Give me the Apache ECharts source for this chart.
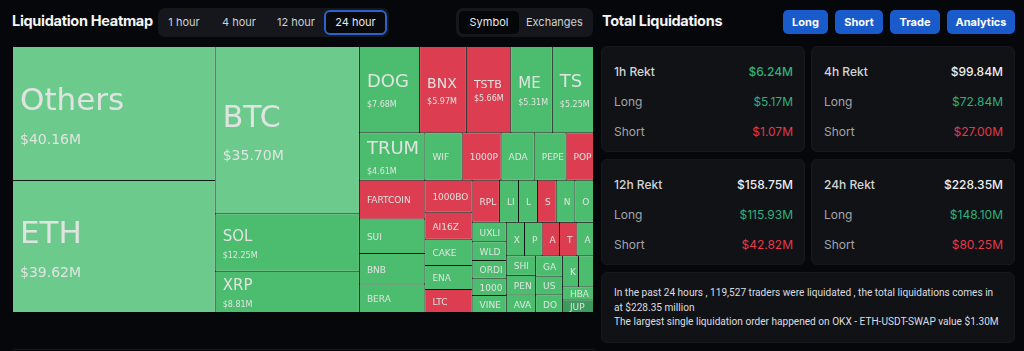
<!DOCTYPE html>
<html>
<head>
<meta charset="utf-8">
<title>Liquidation Heatmap</title>
<script src="https://cdn.jsdelivr.net/npm/echarts@6/dist/echarts.min.js"></script>
<style>
html,body{margin:0;padding:0;background:#05070a;}
body{width:1024px;height:351px;position:relative;overflow:hidden;font-family:Inter,"Noto Sans",sans-serif;color:#e8e8e8;}
.ttl{position:absolute;top:12px;height:18px;line-height:18px;font-weight:700;font-size:14.5px;color:#f4f4f4;letter-spacing:-0.3px;}
.seg{position:absolute;top:8px;height:29px;background:#15171c;border-radius:7px;}
.seg span{position:absolute;top:2px;height:25px;line-height:25px;text-align:center;font-size:11px;color:#cdd0d5;box-sizing:border-box;}
.seg span.on{border:2px solid #2a63c9;background:#07090c;border-radius:6px;line-height:21px;color:#e6e8ec;}
.seg span.dark{background:#050608;border-radius:5px;top:3px;height:23px;line-height:23px;color:#e6e8ec;}
.btn{position:absolute;top:10px;height:24px;line-height:24px;border-radius:5px;background:#1a5bcb;color:#fff;font-size:11px;font-weight:700;text-align:center;}
.card{position:absolute;background:#101216;border:1px solid #16181d;border-radius:6px;box-sizing:border-box;}
.row{position:absolute;left:12px;right:11px;height:16px;line-height:16px;font-size:12px;}
.row b{font-weight:500;color:#d2d4d7;}
.row i{font-style:normal;color:#a2a5aa;}
.row em{font-style:normal;position:absolute;right:0;top:0;}
.note{font-family:Roboto,"Noto Sans",sans-serif;font-size:10.1px;color:#dcdde0;line-height:14.6px;padding:13px 0 0 12px;white-space:nowrap;}
#heatmap{position:absolute;left:13px;top:47px;width:580px;height:265px;}
</style>
</head>
<body>
<div class="ttl" style="left:12px">Liquidation Heatmap</div>
<div class="seg" style="left:158px;width:231px">
  <span style="left:4px;width:44px">1 hour</span>
  <span style="left:59px;width:44px">4 hour</span>
  <span style="left:112px;width:52px">12 hour</span>
  <span class="on" style="left:166px;width:63px">24 hour</span>
</div>
<div class="seg" style="left:456px;width:137px">
  <span class="dark" style="left:3px;width:60px">Symbol</span>
  <span style="left:70px;width:56px">Exchanges</span>
</div>
<div class="ttl" style="left:602px">Total Liquidations</div>
<div class="btn" style="left:783px;width:45px">Long</div>
<div class="btn" style="left:835px;width:48px">Short</div>
<div class="btn" style="left:890px;width:50px">Trade</div>
<div class="btn" style="left:947px;width:68px">Analytics</div>

<div id="heatmap"></div>
<div id="cards"></div>
<div class="card" style="left:601px;top:272px;width:414px;height:71px">
  <div class="note">In the past 24 hours , 119,527 traders were liquidated , the total liquidations comes in<br>at $228.35 million<br>The largest single liquidation order happened on OKX - ETH-USDT-SWAP value $1.30M</div>
</div>
<div style="position:absolute;left:13px;top:349px;width:582px;height:1px;background:#15181d"></div>

<script>
// liquidations per coin, 24h, USD millions (order as laid out)
var coins = ['Others','ETH','BTC','SOL','XRP','DOGE','BNX','TSTBSC','ME','TST',
  'TRUMP','FARTCOIN','SUI','BNB','BERA','WIF','1000PEPE','ADA','PEPE','POPCAT',
  '1000BONK','AI16Z','CAKE','ENA','LTC','RPL','LINK','LDO','SWARMS','NEAR','ONDO',
  'UXLINK','WLD','ORDI','1000CAT','VINE','XLM','PNUT','ACT','TAO','AAVE',
  'SHIB','PENGU','AVAX','GALA','USUAL','DOT','KAITO','ARB','HBAR','JUP'];
var liquidated = [40.16,39.62,35.70,12.25,8.81,7.68,5.97,5.66,5.31,5.25,
  4.61,3.74,3.35,2.96,2.76,2.62,2.74,2.33,2.24,1.93,
  2.24,1.89,1.82,1.68,1.61,1.70,1.19,1.18,1.17,1.16,1.16,
  0.98,0.95,0.90,0.87,0.86,0.90,0.87,0.86,0.86,0.82,
  0.85,0.85,0.76,0.81,0.74,0.70,0.74,0.69,0.60,0.58];
var shortHeavy = ['BNX','TSTBSC','1000PEPE','POPCAT','FARTCOIN','1000BONK','AI16Z','LTC','RPL','SWARMS','ACT','TAO'];
var paleCoins = ['Others','ETH','BTC'];
var darkCoins = ['JUP'];

// summary cards
var periods = ['1h Rekt','4h Rekt','12h Rekt','24h Rekt'];
var totals = [6.24, 99.84, 158.75, 228.35];
var longs = [5.17, 72.84, 115.93, 148.10];
var shorts = [1.07, 27.00, 42.82, 80.25];

// label sizes [name, value] for the cells that show their amount
var labelSize = {Others:[31,14], ETH:[31,14], BTC:[30,14], SOL:[15,8], XRP:[15,8],
  DOGE:[18,8], BNX:[14,8], TSTBSC:[11,8], ME:[15,8], TST:[18,8], TRUMP:[18,8]};
var smallFont = 9;
var smallLine = 11;

function money(v) { return '$' + v.toFixed(2) + 'M'; }

var green = '#2fb07c', red = '#e2394d';
var cardBox = [[601,46],[811,46],[601,159],[811,159]];
var html = '';
periods.forEach(function (p, i) {
  html += '<div class="card" style="left:' + cardBox[i][0] + 'px;top:' + cardBox[i][1] + 'px;width:204px;height:106px">' +
    '<div class="row" style="top:17px"><b>' + p + '</b><em style="color:' + (i === 0 ? green : '#eeeeee') + ';font-weight:500">' + money(totals[i]) + '</em></div>' +
    '<div class="row" style="top:47px"><i>Long</i><em style="color:' + green + '">' + money(longs[i]) + '</em></div>' +
    '<div class="row" style="top:77px"><i>Short</i><em style="color:' + red + '">' + money(shorts[i]) + '</em></div></div>';
});
document.getElementById('cards').innerHTML = html;

function cellColor(c) {
  if (shortHeavy.indexOf(c) >= 0) return '#dc3d50';
  if (paleCoins.indexOf(c) >= 0) return '#6dca8d';
  if (darkCoins.indexOf(c) >= 0) return '#3e9a5c';
  return '#4cbd6e';
}

var nodes = coins.map(function (c, i) {
  var node = {name: c, value: liquidated[i], itemStyle: {color: cellColor(c)}};
  var fs = labelSize[c];
  if (fs) {
    node.label = {
      formatter: '{n|{b}}\n{v|' + money(liquidated[i]) + '}',
      rich: {
        n: {fontSize: fs[0], lineHeight: Math.round(fs[0] * 1.3)},
        v: {fontSize: fs[1], lineHeight: Math.round(fs[0] * 1.2)}
      }
    };
  }
  return node;
});

function blockOf(name) {
  var fs = labelSize[name];
  if (fs) return {h: Math.round(fs[0] * 1.3) + Math.round(fs[0] * 1.2), s: fs[0] * 0.22};
  return {h: smallLine, s: 1.5};
}

var chart = echarts.init(document.getElementById('heatmap'));
chart.setOption({
  animation: false,
  series: [{
    type: 'treemap',
    left: 0, top: 0, right: 0, bottom: 0,
    roam: false,
    nodeClick: false,
    sort: false,
    squareRatio: 0.5 * (1 + Math.sqrt(5)),
    breadcrumb: {show: false},
    levels: [{itemStyle: {gapWidth: 1, borderWidth: 0, borderColor: '#0e1712'}}],
    itemStyle: {borderWidth: 0},
    label: {
      show: true,
      position: 'insideLeft',
      align: 'left',
      padding: [0, 0, 0, 7],
      color: '#dfe4e1',
      fontFamily: 'DejaVu Sans',
      overflow: 'truncate',
      ellipsis: '',
      formatter: '{n|{b}}',
      rich: {n: {fontSize: smallFont, lineHeight: smallLine}}
    },
    labelLayout: function (p) {
      var m = /\{n\|([^}]*)\}/.exec(p.text || '');
      var b = blockOf(m ? m[1] : '');
      return {dy: Math.max(0, (p.rect.height - b.h) / 2 + b.s)};
    },
    data: nodes
  }]
});
</script>
</body>
</html>
